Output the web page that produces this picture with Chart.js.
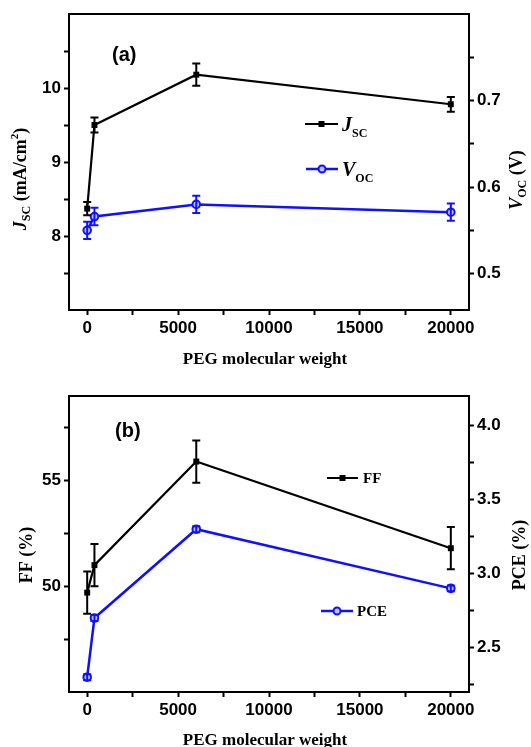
<!DOCTYPE html>
<html>
<head>
<meta charset="utf-8">
<script src="https://cdn.jsdelivr.net/npm/chart.js@4"></script>
<style>
body { margin: 0; background: #fff; }
#wrap { position: relative; width: 531px; height: 747px; overflow: hidden; }
canvas { position: absolute; left: 0; }
</style>
</head>
<body>
<div id="wrap">
  <canvas id="chartA" width="531" height="374" style="top:0"></canvas>
  <canvas id="chartB" width="531" height="373" style="top:374px"></canvas>
</div>
<script>
// PEG molecular weight (shared x values)
const pegWeight = [0, 400, 6000, 20000];

// panel (a): short-circuit current and open-circuit voltage
const jsc = [8.37, 9.50, 10.18, 9.78];
const jscErr = [0.09, 0.10, 0.15, 0.10];
const voc = [0.550, 0.566, 0.580, 0.571];
const vocErr = [0.010, 0.010, 0.010, 0.010];

// panel (b): fill factor and efficiency
const ff = [49.7, 51.0, 55.9, 51.8];
const ffErr = [1.0, 1.0, 1.0, 1.0];
const pce = [2.30, 2.70, 3.30, 2.90];
const pceErr = [0.02, 0.02, 0.02, 0.02];

// tick marks, and the subset that carries a label
const xTicks = [0, 2500, 5000, 7500, 10000, 12500, 15000, 17500, 20000];
const xLabels = [0, 5000, 10000, 15000, 20000];
const jscTicks = [7.5, 8, 8.5, 9, 9.5, 10, 10.5];
const jscLabels = [8, 9, 10];
const vocTicks = [0.5, 0.55, 0.6, 0.65, 0.7, 0.75];
const vocLabels = [0.5, 0.6, 0.7];
const ffTicks = [47.5, 50, 52.5, 55, 57.5];
const ffLabels = [50, 55];
const pceTicks = [2.25, 2.5, 2.75, 3.0, 3.25, 3.5, 3.75, 4.0];
const pceLabels = [2.5, 3.0, 3.5, 4.0];

const SANS = '"Liberation Sans", Arial, sans-serif';
const SERIF = '"Liberation Serif", "Times New Roman", serif';
const BLUE = '#1010ff';
const BLUE_FILL = '#b8c0ff';

function axis(pos, min, max, ticks, labels, digits, size) {
  return {
    type: 'linear',
    position: pos,
    min: min,
    max: max,
    border: { display: false },
    grid: { drawOnChartArea: false, drawTicks: true, tickLength: 5, tickWidth: 2, tickColor: '#000' },
    afterBuildTicks: function (a) { a.ticks = ticks.map(v => ({ value: v })); },
    afterFit: function (a) {
      if (pos === 'bottom') a.height = size; else a.width = size;
    },
    ticks: {
      color: '#000',
      padding: 3,
      autoSkip: false,
      maxRotation: 0,
      font: { family: SANS, size: 17, weight: 'bold' },
      callback: function (v) {
        return labels.some(l => Math.abs(l - v) < 1e-9) ? v.toFixed(digits) : '';
      }
    }
  };
}

function points(ys) {
  return pegWeight.map((x, i) => ({ x: x, y: ys[i] }));
}

// vertical error bars with caps, drawn through the dataset's own y scale
const errorBars = {
  id: 'errorBars',
  afterDatasetsDraw(chart) {
    const ctx = chart.ctx;
    chart.data.datasets.forEach((ds, i) => {
      if (!ds.errors) return;
      const meta = chart.getDatasetMeta(i);
      const ys = chart.scales[ds.yAxisID];
      ctx.save();
      ctx.strokeStyle = ds.borderColor;
      ctx.lineWidth = 2;
      meta.data.forEach((pt, j) => {
        const v = ds.data[j].y, e = ds.errors[j];
        const top = ys.getPixelForValue(v + e), bot = ys.getPixelForValue(v - e);
        ctx.beginPath();
        ctx.moveTo(pt.x, top); ctx.lineTo(pt.x, bot);
        ctx.moveTo(pt.x - 4, top); ctx.lineTo(pt.x + 4, top);
        ctx.moveTo(pt.x - 4, bot); ctx.lineTo(pt.x + 4, bot);
        ctx.stroke();
      });
      ctx.restore();
    });
  }
};

// text made of runs, each run may be shifted (sub/superscript)
function richText(ctx, runs, x, y, angle, align) {
  ctx.save();
  ctx.translate(x, y);
  ctx.rotate(angle || 0);
  let total = 0;
  runs.forEach(r => { ctx.font = r.font; r.w = ctx.measureText(r.text).width; total += r.w; });
  let cx = align === 'center' ? -total / 2 : 0;
  ctx.fillStyle = '#000';
  ctx.textAlign = 'left';
  ctx.textBaseline = 'alphabetic';
  runs.forEach(r => { ctx.font = r.font; ctx.fillText(r.text, cx, r.dy || 0); cx += r.w; });
  ctx.restore();
}

function legendItem(ctx, x1, x2, y, color, width, marker) {
  ctx.save();
  ctx.strokeStyle = color;
  ctx.lineWidth = width;
  ctx.beginPath();
  ctx.moveTo(x1, y); ctx.lineTo(x2, y);
  ctx.stroke();
  const mx = (x1 + x2) / 2;
  if (marker === 'rect') {
    ctx.fillStyle = color;
    ctx.fillRect(mx - 3, y - 3, 6, 6);
  } else {
    ctx.fillStyle = BLUE_FILL;
    ctx.lineWidth = 2;
    ctx.beginPath();
    ctx.arc(mx, y, 3.5, 0, Math.PI * 2);
    ctx.fill();
    ctx.stroke();
  }
  ctx.restore();
}

function decorations(draw) {
  return {
    id: 'decorations',
    afterDraw(chart) {
      const ctx = chart.ctx, a = chart.chartArea;
      ctx.save();
      ctx.strokeStyle = '#000';
      ctx.lineWidth = 2;
      ctx.strokeRect(a.left, a.top, a.right - a.left, a.bottom - a.top);
      ctx.restore();
      draw(ctx, chart);
    }
  };
}

function baseOptions(padTop) {
  return {
    responsive: false,
    animation: false,
    layout: { padding: { top: padTop, left: 0, right: 0, bottom: 0 } },
    plugins: { legend: { display: false }, tooltip: { enabled: false } },
    elements: { line: { tension: 0 } }
  };
}

// panel (a)
const optsA = baseOptions(14);
optsA.scales = {
  x: axis('bottom', -1000, 21000, xTicks, xLabels, 0, 64),
  y: axis('left', 7, 11, jscTicks, jscLabels, 0, 69),
  y1: axis('right', 0.458, 0.80, vocTicks, vocLabels, 1, 62)
};
new Chart(document.getElementById('chartA'), {
  type: 'line',
  data: {
    datasets: [{
      label: 'Jsc',
      data: points(jsc),
      errors: jscErr,
      yAxisID: 'y',
      borderColor: '#000',
      backgroundColor: '#000',
      borderWidth: 2.2,
      pointStyle: 'rect',
      pointRadius: 4.2,
      pointBorderWidth: 0
    }, {
      label: 'Voc',
      data: points(voc),
      errors: vocErr,
      yAxisID: 'y1',
      borderColor: BLUE,
      backgroundColor: BLUE_FILL,
      borderWidth: 2.5,
      pointStyle: 'circle',
      pointRadius: 3.8,
      pointBorderWidth: 2
    }]
  },
  options: optsA,
  plugins: [errorBars, decorations(function (ctx) {
    ctx.save();
    ctx.fillStyle = '#000';
    ctx.font = 'bold 20px ' + SANS;
    ctx.textBaseline = 'middle';
    ctx.fillText('(a)', 112, 55);
    ctx.restore();

    richText(ctx, [{ text: 'PEG molecular weight', font: 'bold 17px ' + SERIF }], 265, 364, 0, 'center');
    richText(ctx, [
      { text: 'J', font: 'italic bold 18px ' + SERIF },
      { text: 'SC', font: 'bold 12px ' + SERIF, dy: 4 },
      { text: ' (mA/cm', font: 'bold 18px ' + SERIF },
      { text: '2', font: 'bold 11px ' + SERIF, dy: -8 },
      { text: ')', font: 'bold 18px ' + SERIF }
    ], 26, 179, -Math.PI / 2, 'center');
    richText(ctx, [
      { text: 'V', font: 'italic bold 18px ' + SERIF },
      { text: 'OC', font: 'bold 12px ' + SERIF, dy: 4 },
      { text: ' (V)', font: 'bold 18px ' + SERIF }
    ], 522, 180, -Math.PI / 2, 'center');

    legendItem(ctx, 305, 338, 124, '#000', 2, 'rect');
    richText(ctx, [
      { text: 'J', font: 'italic bold 20px ' + SERIF },
      { text: 'SC', font: 'bold 12px ' + SERIF, dy: 6 }
    ], 342, 131);
    legendItem(ctx, 306, 338, 169, BLUE, 2.5, 'circle');
    richText(ctx, [
      { text: 'V', font: 'italic bold 20px ' + SERIF },
      { text: 'OC', font: 'bold 12px ' + SERIF, dy: 6 }
    ], 342, 176);
  })]
});

// panel (b)
const optsB = baseOptions(22);
optsB.scales = {
  x: axis('bottom', -1000, 21000, xTicks, xLabels, 0, 55),
  y: axis('left', 45, 59, ffTicks, ffLabels, 0, 69),
  y1: axis('right', 2.2, 4.2, pceTicks, pceLabels, 1, 62)
};
new Chart(document.getElementById('chartB'), {
  type: 'line',
  data: {
    datasets: [{
      label: 'FF',
      data: points(ff),
      errors: ffErr,
      yAxisID: 'y',
      borderColor: '#000',
      backgroundColor: '#000',
      borderWidth: 2.2,
      pointStyle: 'rect',
      pointRadius: 4.2,
      pointBorderWidth: 0
    }, {
      label: 'PCE',
      data: points(pce),
      errors: pceErr,
      yAxisID: 'y1',
      borderColor: BLUE,
      backgroundColor: BLUE_FILL,
      borderWidth: 2.5,
      pointStyle: 'circle',
      pointRadius: 3.8,
      pointBorderWidth: 2
    }]
  },
  options: optsB,
  plugins: [errorBars, decorations(function (ctx) {
    ctx.save();
    ctx.fillStyle = '#000';
    ctx.font = 'bold 20px ' + SANS;
    ctx.textBaseline = 'middle';
    ctx.fillText('(b)', 115, 57);
    ctx.restore();

    richText(ctx, [{ text: 'PEG molecular weight', font: 'bold 17px ' + SERIF }], 265, 371, 0, 'center');
    richText(ctx, [{ text: 'FF (%)', font: 'bold 18px ' + SERIF }], 32, 181, -Math.PI / 2, 'center');
    richText(ctx, [{ text: 'PCE (%)', font: 'bold 18px ' + SERIF }], 525, 181, -Math.PI / 2, 'center');

    legendItem(ctx, 327, 358, 104, '#000', 2, 'rect');
    richText(ctx, [{ text: 'FF', font: 'bold 15px ' + SERIF }], 363, 109);
    legendItem(ctx, 321, 353, 237, BLUE, 2.5, 'circle');
    richText(ctx, [{ text: 'PCE', font: 'bold 15px ' + SERIF }], 357, 242);
  })]
});
</script>
</body>
</html>
